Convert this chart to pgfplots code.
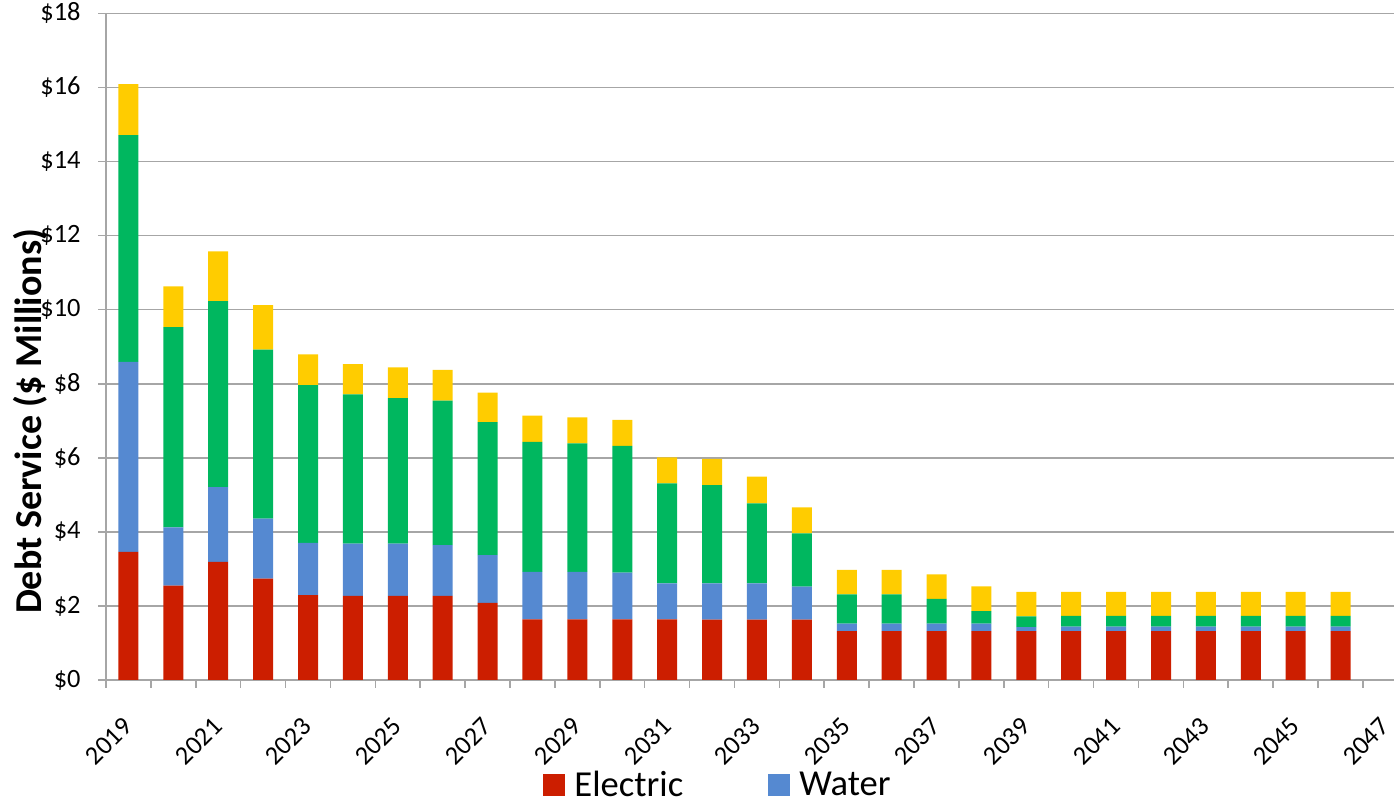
\documentclass[border=0pt]{standalone}
\usepackage{pgfplots}
\usepackage{pgfplotstable}
\pgfplotsset{compat=1.18}
\usepackage{fontspec}
\setmainfont{Carlito}
\definecolor{cE}{RGB}{204,30,0}
\definecolor{cW}{RGB}{85,137,209}
\definecolor{cG}{RGB}{0,183,95}
\definecolor{cY}{RGB}{255,204,0}
\definecolor{gridgray}{RGB}{166,166,166}
\pgfplotstableread{
year E W G Y
2019 3.46 5.13 6.12 1.38
2020 2.55 1.57 5.41 1.10
2021 3.19 2.02 5.02 1.34
2022 2.74 1.62 4.56 1.20
2023 2.29 1.41 4.26 0.83
2024 2.27 1.41 4.03 0.82
2025 2.27 1.41 3.93 0.83
2026 2.27 1.37 3.90 0.83
2027 2.08 1.29 3.59 0.80
2028 1.64 1.28 3.51 0.71
2029 1.64 1.28 3.47 0.70
2030 1.64 1.26 3.42 0.70
2031 1.64 0.97 2.70 0.70
2032 1.63 0.98 2.65 0.71
2033 1.63 0.98 2.16 0.72
2034 1.63 0.89 1.44 0.70
2035 1.32 0.20 0.79 0.66
2036 1.32 0.20 0.79 0.66
2037 1.32 0.20 0.67 0.66
2038 1.32 0.20 0.34 0.67
2039 1.32 0.11 0.29 0.66
2040 1.32 0.12 0.29 0.65
2041 1.32 0.12 0.29 0.65
2042 1.32 0.12 0.29 0.65
2043 1.32 0.12 0.29 0.65
2044 1.32 0.12 0.29 0.65
2045 1.32 0.12 0.29 0.65
2046 1.32 0.12 0.29 0.65
}\datatable
\begin{document}
\begin{tikzpicture}
\useasboundingbox (-53pt,-61.5pt) rectangle (644pt,340pt);
\begin{axis}[
  at={(0,0)}, anchor=south west,
  scale only axis, width=644pt, height=333.33pt,
  xmin=2018.5, xmax=2047.19, ymin=0, ymax=18,
  enlargelimits=false,
  ybar stacked, bar width=10pt,
  axis x line*=bottom, axis y line*=left,
  axis line style={draw=gridgray, line width=0.8pt, -},
  ymajorgrids, grid style={draw=gridgray, line width=0.8pt},
  ytick={0,2,...,18},
  yticklabel={\$\pgfmathprintnumber{\tick}},
  /pgf/number format/assume math mode=true,
  tick align=outside, major tick length=4pt, minor tick length=4pt,
  tick style={draw=gridgray, line width=0.8pt},
  xtick={2019,2021,...,2047},
  xticklabel={\pgfmathprintnumber[1000 sep={}]{\tick}},
  minor xtick={2018.5,2019.5,...,2046.5},
  major x tick style={draw=none},
  xticklabel style={xshift=-0.2pt, yshift=-17pt, rotate=45, anchor=east, inner sep=0pt},
  ticklabel style={font=\fontsize{13.2}{15}\selectfont},
  yticklabel style={anchor=east, inner sep=0pt, xshift=-8.5pt},
  ylabel={Debt Service (\$ Millions)},
  ylabel style={at={(axis description cs:-0.059,0.3878)}, anchor=center, inner sep=0pt,
    font=\bfseries\fontsize{19}{22}\selectfont},
  legend style={draw=none, fill=none, at={(axis description cs:0.3393,-0.1575)}, anchor=west,
    inner sep=0pt, font=\fontsize{18.3}{21}\selectfont,
    /tikz/every odd column/.append style={column sep=2.5pt},
    /tikz/every even column/.append style={column sep=40.5pt}},
  legend columns=2,
  legend image code/.code={\draw[#1,draw=none] (0pt,-5.5pt) rectangle (11pt,5.5pt);},
]
\addplot[fill=cE, draw=none] table[x=year, y=E] {\datatable};
\addlegendentry{Electric}
\addplot[fill=cW, draw=none] table[x=year, y=W] {\datatable};
\addlegendentry{Water}
\addplot[fill=cG, draw=none, forget plot] table[x=year, y=G] {\datatable};
\addplot[fill=cY, draw=none, forget plot] table[x=year, y=Y] {\datatable};
\end{axis}
\end{tikzpicture}
\end{document}
